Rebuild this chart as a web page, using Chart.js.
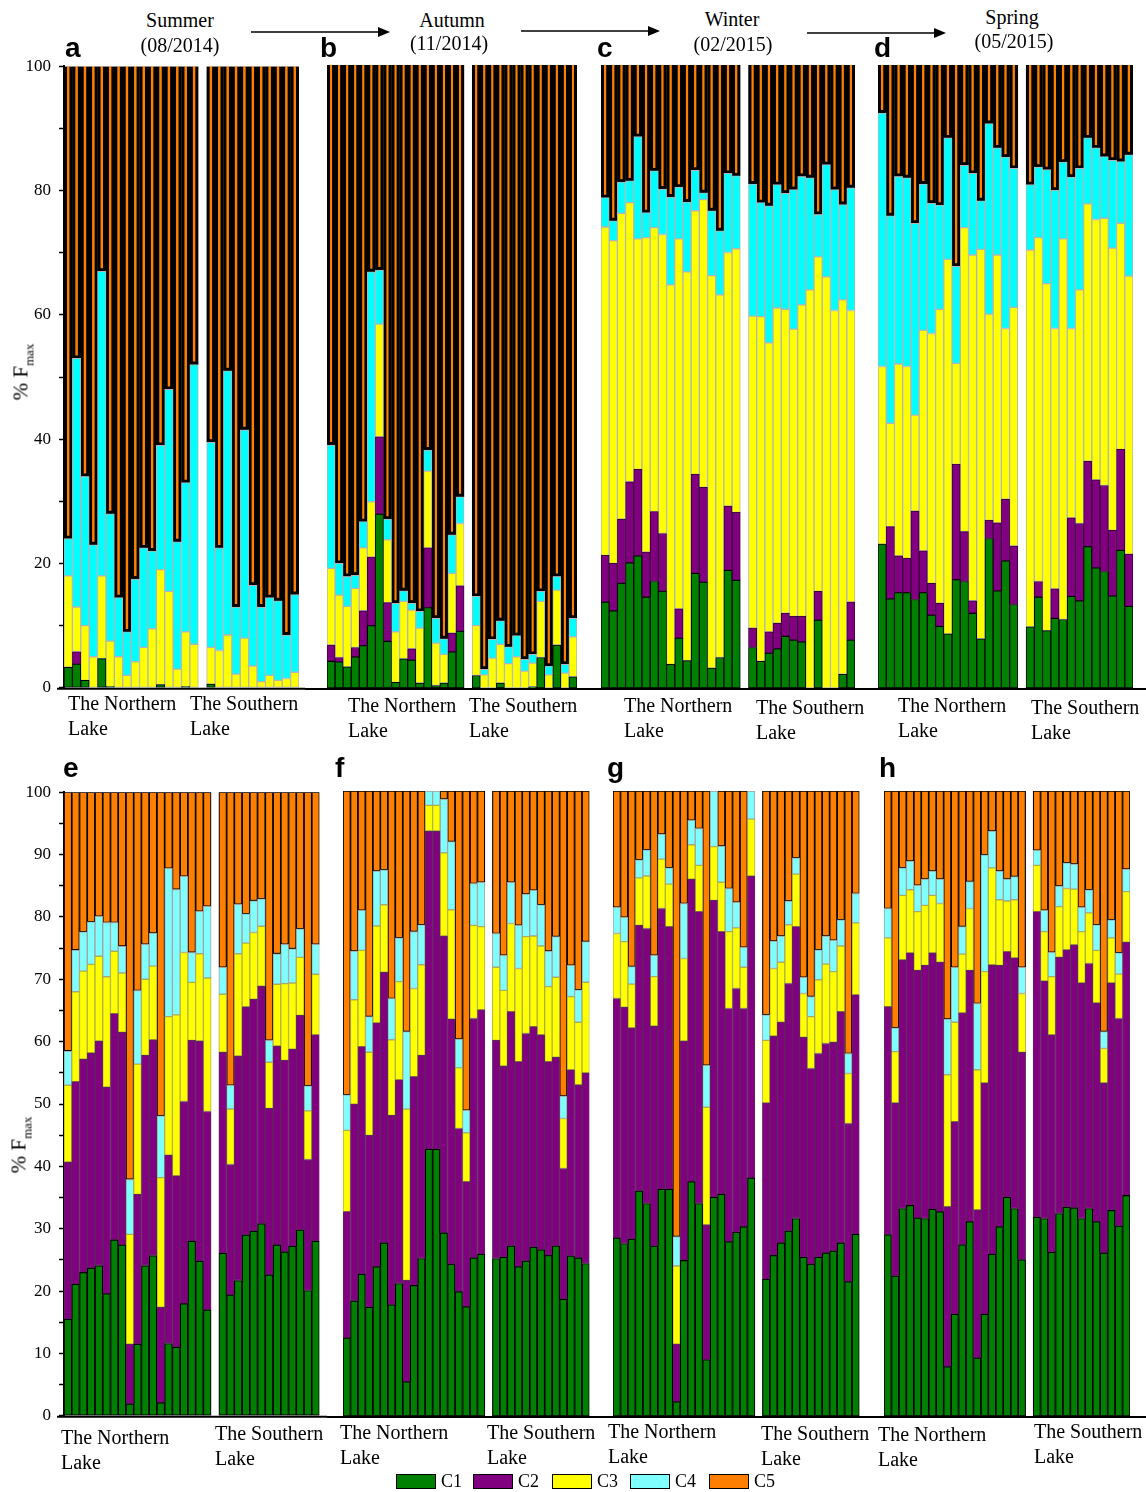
<!DOCTYPE html>
<html>
<head>
<meta charset="utf-8">
<title>Fmax components by season</title>
<script src="https://cdn.jsdelivr.net/npm/chart.js@4.4.1/dist/chart.umd.min.js"></script>
<style>
  html, body { margin: 0; padding: 0; background: #fff; }
  #fig { position: relative; width: 1146px; height: 1492px; overflow: hidden;
         font-family: 'Liberation Serif', 'Times New Roman', serif; color: #000; }
  #fig canvas { position: absolute; }
  .txt { position: absolute; white-space: nowrap; font-size: 20px; line-height: 20px; }
  .mid { transform: translateX(-50%); }
  .letter { position: absolute; font-family: 'Liberation Sans', Arial, sans-serif; font-weight: bold;
            font-size: 28px; line-height: 28px; }
  .ytitle { position: absolute; white-space: nowrap; font-size: 21px; line-height: 21px;
            transform: translate(-50%, -50%) rotate(-90deg); }
  .ytitle span { font-size: 13px; position: relative; top: 6px; }
  .key { position: absolute; width: 40px; height: 15px; border: 1px solid #000; box-sizing: border-box; }
</style>
</head>
<body>
<div id="fig">
  <svg width="1146" height="60" style="position:absolute;left:0;top:0">
    <g stroke="#000" stroke-width="1.6">
      <line x1="251" y1="32" x2="381" y2="32"/>
      <line x1="521" y1="31" x2="651" y2="31"/>
      <line x1="807" y1="33" x2="937" y2="33"/>
    </g>
    <g fill="#000">
      <polygon points="390,32 378,27 378,37"/>
      <polygon points="660,31 648,26 648,36"/>
      <polygon points="946,33 934,28 934,38"/>
    </g>
  </svg>
</div>
<script>
// ---- data: % Fmax of each component, northern samples first, then southern ----
const panelIds = ['a', 'b', 'c', 'd', 'e', 'f', 'g', 'h'];
const northCounts = [16, 17, 17, 17, 19, 19, 19, 19];
const components = ['C1', 'C2', 'C3', 'C4', 'C5'];
const seasonNames = ['Summer', 'Autumn', 'Winter', 'Spring'];
const seasonDates = ['(08/2014)', '(11/2014)', '(02/2015)', '(05/2015)'];
const lakeNames = ['The Northern', 'The Southern'];
const topTickLabels = [0, 20, 40, 60, 80, 100];
const bottomTickLabels = [0, 10, 20, 30, 40, 50, 60, 70, 80, 90, 100];

const a_C1 = [3.3,3.8,1.2,0,4.7,0.2,0,0,0,0,0,0.5,0,0,0.2,0, 0.6,0,0,0,0,0,0,0,0,0,0];
const a_C2 = [0,2.0,0,0,0,0,0,0,0,0,0,0,0,0,0,0, 0,0,0,0,0,0,0,0,0,0,0];
const a_C3 = [14.7,7.2,8.8,5.0,13.3,7.3,5.0,2.0,4.2,6.5,9.5,18.5,15.5,3.0,8.8,7.0, 5.9,6.0,8.5,2.2,8.0,3.5,1.0,2.0,1.2,1.5,2.5];
const a_C4 = [6.0,40.0,24.0,18.0,49.0,20.5,9.5,7.0,13.3,16.0,12.5,20.0,32.5,20.5,24.0,45.0, 33.0,16.5,42.5,10.8,33.5,13.0,12.0,12.5,12.8,7.0,12.5];
const a_C5 = [76.0,47.0,66.0,77.0,33.0,72.0,85.5,91.0,82.5,77.5,78.0,61.0,52.0,76.5,67.0,48.0, 60.5,77.5,49.0,87.0,58.5,83.5,87.0,85.5,86.0,91.5,85.0];

const b_C1 = [4.3,4.2,3.4,5.0,6.8,10.0,27.9,7.5,0.9,4.7,4.5,0.8,12.9,0.4,0.8,5.8,9.1, 2.0,0,0,0.8,0,0,0,0.2,4.9,0,6.9,0,1.8];
const b_C2 = [2.6,0.7,0,1.5,5.6,11.0,12.4,6.2,0,0,1.8,0,9.6,0,0,3.0,7.3, 0,0,0,0,0,0,0,0,0,0,0,0,0];
const b_C3 = [12.3,10.0,9.7,9.5,10.1,8.9,18.1,10.1,8.1,9.2,6.2,8.8,12.3,6.8,4.6,9.6,10.0, 8.0,2.1,4.8,6.2,3.9,5.0,2.7,3.8,9.0,2.1,8.8,2.4,6.4];
const b_C4 = [19.8,5.1,4.8,2.1,4.2,36.9,8.7,3.3,4.6,1.7,1.1,2.7,3.4,4.0,2.5,6.2,4.3, 4.7,0.9,3.0,3.8,2.7,3.4,1.9,1.4,1.6,1.4,2.2,1.4,3.0];
const b_C5 = [61.0,80.0,82.1,81.9,73.3,33.2,32.9,72.9,86.4,84.4,86.4,87.7,61.8,88.8,92.1,75.4,69.3, 85.3,97.0,92.2,89.2,93.4,91.6,95.4,94.6,84.5,96.5,82.1,96.2,88.8];

const c_C1 = [13.8,12.4,16.8,20.1,21.2,14.6,17.1,15.5,3.8,8.0,4.4,18.4,17.0,3.2,4.9,18.9,17.3, 6.5,4.3,5.6,6.3,8.3,7.7,7.4,0,10.9,0,0,2.2,7.7];
const c_C2 = [7.5,7.6,10.3,13.0,13.9,7.2,11.2,9.3,0,4.7,0,15.9,15.2,0,0,10.3,10.9, 3.1,0,3.4,4.1,3.7,3.8,4.1,0,4.6,0,0,0,6.1];
const c_C3 = [52.7,51.8,49.1,44.8,37.0,50.5,45.6,48.0,60.9,59.4,62.4,42.3,46.2,63.0,58.2,40.7,42.3, 50.1,55.3,46.4,50.6,48.8,46.1,50.0,63.9,53.7,66.0,60.6,60.1,46.8];
const c_C4 = [4.7,3.2,5.0,3.5,16.4,4.0,9.1,7.3,14.1,8.3,11.2,6.5,1.1,10.4,10.3,12.7,11.7, 21.2,18.3,22.0,19.8,18.6,22.4,20.6,18.0,6.8,18.0,19.4,15.3,19.7];
const c_C5 = [21.3,25.0,18.8,18.6,11.5,23.7,17.0,19.9,21.2,19.6,22.0,16.9,20.5,23.4,26.6,17.4,17.8, 19.1,22.1,22.6,19.2,20.6,20.0,17.9,18.1,24.0,16.0,20.0,22.4,19.7];

const d_C1 = [23.1,14.3,15.3,15.3,14.2,15.3,11.7,9.9,8.7,17.4,17.1,12.0,7.9,24.0,15.6,20.4,13.4, 9.8,14.6,9.2,11.2,11.0,14.7,14.0,22.7,19.3,18.7,14.8,22.1,13.1];
const d_C2 = [0,11.6,5.9,5.5,14.2,6.7,5.1,3.7,0,18.5,8.0,2.0,0,2.9,10.9,9.9,9.4, 0,2.5,0,4.7,0,12.6,12.4,13.7,14.1,13.8,10.5,16.2,8.4];
const d_C3 = [28.5,16.6,30.8,30.8,15.4,35.4,40.1,47.2,60.1,16.2,48.8,55.5,62.5,33.1,43.0,27.4,38.3, 60.5,55.2,55.7,41.8,61.1,30.4,37.5,41.3,41.8,42.9,45.3,36.3,44.6];
const d_C4 = [40.7,33.3,30.1,30.3,30.8,23.5,20.9,16.7,19.5,15.6,10.0,13.1,7.8,30.6,17.2,27.5,22.3, 10.5,11.3,18.3,22.2,12.3,24.3,19.5,10.6,11.5,9.9,14.1,9.9,19.5];
const d_C5 = [7.7,24.2,17.9,18.1,25.4,19.1,22.2,22.5,11.7,32.3,16.1,17.4,21.8,9.4,13.3,14.8,16.6, 19.2,16.4,16.8,20.1,15.6,18.0,16.6,11.7,13.3,14.7,15.3,15.5,14.4];

const e_C1 = [15.5,21.1,23.0,23.7,24.1,19.6,28.2,27.4,1.9,11.5,24.1,25.7,2.1,11.6,11.0,18.0,28.0,24.8,17.0, 26.1,19.4,21.7,29.0,29.6,30.8,22.6,27.4,26.3,27.2,29.8,20.1,28.0];
const e_C2 = [25.2,32.5,34.2,34.5,36.0,33.1,36.3,34.1,9.6,24.0,33.7,34.6,15.3,30.2,27.5,32.4,32.2,35.3,31.8, 32.2,20.9,36.0,36.6,37.2,38.1,26.7,31.9,30.7,31.6,34.4,21.0,33.1];
const e_C3 = [12.3,14.4,14.1,14.2,13.6,17.7,10.0,9.5,17.6,20.9,12.2,11.8,20.8,22.2,25.8,23.9,9.3,14.0,21.4, 9.3,8.9,16.4,10.2,10.7,9.6,7.4,9.9,12.3,10.6,9.3,7.8,9.7];
const e_C4 = [5.5,6.7,6.3,6.8,6.4,8.7,4.6,4.3,8.8,11.8,5.6,5.3,9.9,23.8,20.1,12.2,4.8,6.8,11.5, 4.3,3.8,7.9,4.7,5.1,4.4,3.5,4.9,6.3,5.5,4.6,4.0,4.8];
const e_C5 = [41.5,25.3,22.4,20.8,19.9,20.9,20.9,24.7,62.1,31.8,24.4,22.6,51.9,12.2,15.6,13.5,25.7,19.1,18.3, 28.1,47.0,18.0,19.5,17.4,17.1,39.8,25.9,24.4,25.1,21.9,47.1,24.4];

const f_C1 = [12.5,18.4,22.7,17.4,23.9,27.7,17.8,21.2,5.5,20.9,25.2,42.7,42.7,29.3,24.3,19.9,17.5,25.3,25.9, 25.2,25.4,27.2,23.9,24.8,27.0,26.6,25.7,27.2,18.7,25.6,25.3,24.4];
const f_C2 = [20.2,31.5,36.4,27.5,39.0,43.3,30.3,32.6,16.2,33.4,32.5,50.9,50.9,47.5,39.2,26.1,20.0,38.3,39.1, 34.9,30.6,37.5,32.8,36.4,35.3,34.4,31.0,30.2,20.9,29.8,27.7,30.5];
const f_C3 = [13.0,16.7,15.4,13.3,15.5,10.8,12.1,15.7,27.4,14.1,14.5,4.1,4.1,13.3,17.5,9.7,7.8,14.9,13.3, 11.7,12.1,14.1,14.9,15.5,14.5,14.2,12.0,12.8,8.0,11.7,10.0,14.5];
const f_C4 = [5.7,7.8,6.4,5.7,8.8,5.6,6.6,7.0,12.4,9.1,6.4,2.3,2.3,8.6,10.9,4.6,3.6,6.7,7.1, 5.4,5.6,6.6,6.9,6.8,7.3,6.6,5.7,6.5,3.6,5.0,5.2,6.5];
const f_C5 = [48.6,25.6,19.1,36.1,12.8,12.6,33.2,23.5,38.5,22.5,21.4,0,0,1.3,8.1,39.7,51.1,14.8,14.6, 22.8,26.3,14.6,21.5,16.5,15.9,18.2,25.6,23.3,48.8,27.9,31.8,24.1];

const g_C1 = [28.5,27.6,28.3,36.0,34.0,27.2,36.3,36.3,2.3,24.9,37.5,34.0,9.0,35.0,35.5,27.9,29.4,30.3,38.1, 21.9,25.7,27.7,29.6,31.6,25.4,24.3,25.4,26.1,26.4,27.7,21.5,29.1];
const g_C2 = [38.3,37.8,33.8,42.5,44.0,35.2,44.9,42.0,9.2,35.1,48.4,46.7,21.6,47.5,42.0,37.3,39.0,34.9,48.3, 28.2,35.1,35.3,39.6,46.7,35.2,31.3,32.6,33.5,33.4,37.0,25.3,38.3];
const g_C3 = [10.4,10.5,7.0,7.6,8.4,7.9,7.9,6.8,12.5,13.2,5.5,7.4,18.8,8.6,7.9,12.3,9.7,6.6,9.1, 10.0,10.8,9.6,9.4,8.4,7.0,8.3,11.8,12.7,11.3,10.5,8.0,11.5];
const g_C4 = [4.2,3.9,2.8,2.9,4.2,3.4,4.0,2.6,4.7,8.8,3.9,5.9,6.7,8.9,5.8,6.9,4.1,3.2,4.5, 4.1,4.4,4.2,3.8,2.6,2.6,3.2,4.8,4.5,5.0,4.2,3.2,4.7];
const g_C5 = [18.6,20.2,28.1,11.0,9.4,26.3,6.9,12.3,71.3,18.0,4.7,6.0,43.9,0,8.8,15.6,17.8,25.0,0, 35.8,24.0,23.2,17.6,10.7,29.8,32.9,25.4,23.2,23.9,20.6,42.0,16.4];

const h_C1 = [29.0,22.4,33.2,33.7,31.7,31.6,33.1,32.7,7.9,16.3,27.4,31.1,9.3,16.3,25.9,30.3,35.0,33.2,25.0, 31.8,31.6,26.2,32.4,33.4,33.3,31.6,33.2,31.1,26.1,32.9,30.4,35.3];
const h_C2 = [36.5,27.7,39.8,40.4,39.6,40.5,41.0,39.9,25.6,30.8,37.1,40.2,23.7,37.0,46.3,41.8,39.3,40.1,33.2, 48.9,38.0,34.8,41.0,41.2,42.1,37.7,39.2,35.0,27.2,36.4,33.2,40.5];
const h_C3 = [11.0,8.2,10.3,10.1,9.4,9.6,9.2,9.4,21.1,15.9,9.4,9.9,22.4,17.8,15.5,10.5,8.1,9.3,9.4, 7.4,7.9,9.3,8.1,9.8,8.9,8.2,8.1,8.4,5.5,7.2,7.1,8.1];
const h_C4 = [4.7,3.8,4.4,4.6,4.2,4.2,3.9,3.9,8.9,8.8,4.4,4.3,10.6,18.7,5.9,4.6,3.5,3.7,4.2, 2.4,3.4,3.9,3.3,4.1,4.0,3.9,3.7,4.1,2.7,2.9,3.4,3.6];
const h_C5 = [18.8,37.9,12.3,11.2,15.1,14.1,12.8,14.1,36.5,28.2,21.7,14.5,34.0,10.2,6.4,12.8,14.1,13.7,28.2, 9.5,19.1,25.8,15.2,11.5,11.7,18.6,15.8,21.4,38.5,20.6,25.9,12.5];

const panelSeries = {
  a: [a_C1, a_C2, a_C3, a_C4, a_C5], b: [b_C1, b_C2, b_C3, b_C4, b_C5],
  c: [c_C1, c_C2, c_C3, c_C4, c_C5], d: [d_C1, d_C2, d_C3, d_C4, d_C5],
  e: [e_C1, e_C2, e_C3, e_C4, e_C5], f: [f_C1, f_C2, f_C3, f_C4, f_C5],
  g: [g_C1, g_C2, g_C3, g_C4, g_C5], h: [h_C1, h_C2, h_C3, h_C4, h_C5]
};

// ---- layout ----
const fig = document.getElementById('fig');
Chart.defaults.font.family = "'Liberation Serif', 'Times New Roman', serif";
Chart.defaults.color = '#000';

const rowGeom = [
  { top: 55, height: 645, padTop: 10, padBottom: 12 },
  { top: 781, height: 647, padTop: 10, padBottom: 12 }
];
// the panels with a y axis lose some room to the tick labels: give it back
const axisExtraTop = 7;
const axisExtraBottom = 6;
// canvas left, canvas right, plot left, plot right
const panelGeom = [
  [0, 305, 64, 299], [305, 585, 316, 577], [585, 862, 593, 855], [862, 1146, 870, 1133],
  [0, 327, 64, 319.5], [327, 597, 335, 589.5], [597, 868, 605, 859.5], [868, 1146, 876, 1130]
];
const fillColors = [
  ['#008000', '#800080', '#ffff00', '#00ffff', '#ff8000'],
  ['#008000', '#800080', '#ffff00', '#80ffff', '#ff8000']
];
const edgeColors = [
  ['#000000', '#3c003c', '#b4b4b4', '#b4b4b4', '#000000'],
  ['#000000', '#5a2a5a', '#b0b040', '#a0a0a0', '#000000']
];
const edgeWidths = [[1, 1, 1, 1, 3.3], [1.2, 1, 1, 1, 1.2]];

// baseline running under each row of panels
const baselinePlugin = {
  id: 'baseline',
  afterDraw(chart, args, opts) {
    const { ctx, chartArea } = chart;
    ctx.save();
    ctx.strokeStyle = '#000';
    ctx.lineWidth = 2;
    ctx.beginPath();
    ctx.moveTo(opts.from, chartArea.bottom + 1);
    ctx.lineTo(chart.width, chartArea.bottom + 1);
    ctx.stroke();
    ctx.restore();
  }
};

function withGap(arr, n) {
  return [...arr.slice(0, n), null, ...arr.slice(n)];
}

panelIds.forEach((id, i) => {
  const row = i < 4 ? 0 : 1;
  const g = panelGeom[i];
  const r = rowGeom[row];
  const withAxis = i % 4 === 0;
  const canvas = document.createElement('canvas');
  canvas.width = g[1] - g[0];
  canvas.height = r.height + (withAxis ? axisExtraTop + axisExtraBottom : 0);
  canvas.style.left = g[0] + 'px';
  canvas.style.top = (r.top - (withAxis ? axisExtraTop : 0)) + 'px';
  fig.appendChild(canvas);

  const n = northCounts[i];
  const series = panelSeries[id];
  const labels = [];
  for (let k = 0; k <= series[0].length; k++) {
    labels.push(k < n ? 'N' + (k + 1) : (k === n ? '' : 'S' + (k - n)));
  }
  const tickLabels = row === 0 ? topTickLabels : bottomTickLabels;

  const datasets = components.map((name, c) => ({
    label: name,
    data: withGap(series[c], n),
    backgroundColor: fillColors[row][c],
    borderColor: edgeColors[row][c],
    borderWidth: edgeWidths[row][c],
    borderSkipped: (row === 0 && c === 4) ? 'top' : false
  }));

  new Chart(canvas, {
    type: 'bar',
    data: { labels: labels, datasets: datasets },
    options: {
      responsive: false,
      animation: false,
      layout: {
        padding: { left: withAxis ? 0 : g[2] - g[0], right: g[1] - g[3], top: r.padTop, bottom: r.padBottom }
      },
      datasets: { bar: { barPercentage: 1, categoryPercentage: 1 } },
      plugins: {
        legend: { display: false },
        tooltip: { enabled: false },
        baseline: { from: withAxis ? g[2] - g[0] - 7 : 0 }
      },
      scales: {
        x: { stacked: true, display: false },
        y: {
          stacked: true,
          min: 0,
          max: 100,
          display: withAxis,
          afterFit: (scale) => { scale.width = g[2] - g[0]; },
          ticks: {
            stepSize: row === 0 ? 10 : 5,
            autoSkip: false,
            padding: 8,
            font: { size: 17 },
            callback: (v) => tickLabels.includes(v) ? String(v) : ''
          },
          grid: { drawOnChartArea: false, drawTicks: true, tickLength: 5, tickColor: '#000', tickWidth: 1.5 },
          border: { display: true, color: '#000', width: 2 }
        }
      }
    },
    plugins: [baselinePlugin]
  });
});

// ---- text ----
function addText(cls, html, left, top) {
  const el = document.createElement('div');
  el.className = cls;
  el.innerHTML = html;
  el.style.left = left + 'px';
  el.style.top = top + 'px';
  fig.appendChild(el);
  return el;
}

const seasonPos = [[180, 20, 180, 45], [452, 20, 449, 43], [732, 19, 733, 44], [1012, 17, 1014, 41]];
seasonNames.forEach((s, k) => {
  const p = seasonPos[k];
  addText('txt mid', s, p[0], p[1] - 10.5);
  addText('txt mid', seasonDates[k], p[2], p[3] - 10.5);
});

const letterPos = [[65, 58], [320, 58], [597, 58], [874, 58], [63, 778], [335, 778], [607, 778], [879, 778]];
panelIds.forEach((id, k) => addText('letter', id, letterPos[k][0], letterPos[k][1] - 23.6));

const lakePos = [
  [68, 703, 190, 703], [348, 705, 469, 705], [624, 705, 756, 707], [898, 705, 1031, 707],
  [61, 1437, 215, 1433], [340, 1432, 487, 1432], [608, 1431, 761, 1433], [878, 1434, 1034, 1431]
];
lakePos.forEach(p => {
  addText('txt', lakeNames[0], p[0], p[1] - 10.5);
  addText('txt', 'Lake', p[0], p[1] + 25 - 10.5);
  addText('txt', lakeNames[1], p[2], p[3] - 10.5);
  addText('txt', 'Lake', p[2], p[3] + 25 - 10.5);
});

addText('ytitle', '% F<span>max</span>', 22, 372);
addText('ytitle', '% F<span>max</span>', 20, 1145);

// legend
const keyLeft = [396, 473, 552, 630, 709];
components.forEach((name, c) => {
  const box = addText('key', '', keyLeft[c], 1474);
  box.style.background = fillColors[1][c];
  addText('txt', name, keyLeft[c] + 45, 1481 - 10.5).style.fontSize = '18px';
});
</script>
</body>
</html>
